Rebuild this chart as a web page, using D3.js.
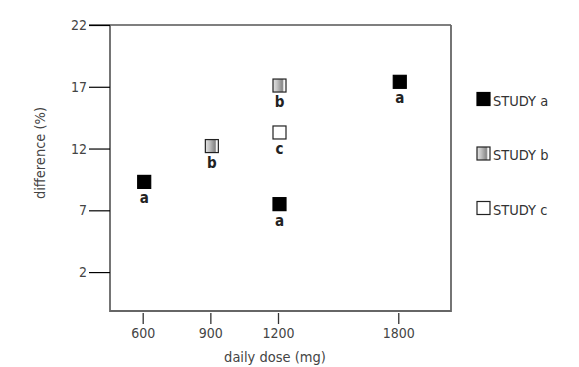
<!DOCTYPE html>
<html><head><meta charset="utf-8">
<script src="https://cdn.jsdelivr.net/npm/d3@7"></script>
<style>
body{margin:0;background:#fff;}
svg{display:block;}
text{font-family:"Liberation Sans Narrow","Arial Narrow","DejaVu Sans Condensed",sans-serif;}
</style></head>
<body><svg id="c" width="579" height="367"></svg>
<script>
// data
const studies = ["STUDY a", "STUDY b", "STUDY c"];
const studyLetters = ["a", "b", "c"];
const doses = [600, 900, 1200, 1200, 1200, 1800];
const differences = [9.3, 12.2, 17.1, 13.3, 7.5, 17.4];
const pointStudy = ["a", "b", "b", "c", "a", "a"];
const xTicks = [600, 900, 1200, 1800];
const yTicks = [2, 7, 12, 17, 22];

const FONT = '"Liberation Sans Narrow","Arial Narrow","DejaVu Sans Condensed",sans-serif';
const svg = d3.select("#c");
const L = 110, R = 451, T = 25, B = 311;
const x = d3.scaleLinear().domain([455, 1200, 2063]).range([L, L + 168, R]);
const y = d3.scaleLinear().domain([-1.15, 22]).range([B, T]);

// gradient for study b
const defs = svg.append("defs");
const g = defs.append("linearGradient").attr("id", "gb").attr("x1", "0").attr("x2", "1").attr("y1", "0").attr("y2", "0");
[[0, "#e4e4e4"], [0.3, "#c4c4c4"], [0.7, "#8a8a8a"], [0.78, "#9a9a9a"], [0.82, "#f4f4f4"], [1, "#ffffff"]]
  .forEach(([o, c]) => g.append("stop").attr("offset", o).attr("stop-color", c));
const fillFor = s => s === "a" ? "#000" : s === "b" ? "url(#gb)" : "#fff";
const strokeFor = s => s === "a" ? "#000" : "#222";

// top border (black) extends across tick
svg.append("line").attr("x1", L - 21).attr("x2", R).attr("y1", y(22)).attr("y2", y(22))
  .attr("stroke", "#000").attr("stroke-width", 1.2);
// right, bottom, left border (gray)
svg.append("path").attr("d", `M${R},${T}V${B}H${L}V${T}`).attr("fill", "none")
  .attr("stroke", "#666").attr("stroke-width", 1.8);

// y axis
const ya = svg.append("g").attr("transform", `translate(${L},0)`)
  .call(d3.axisLeft(y).tickValues(yTicks).tickSize(21).tickPadding(2).tickFormat(d3.format("d")));
ya.select(".domain").remove();
ya.selectAll(".tick line").attr("stroke", "#000").attr("stroke-width", 1.2);
ya.selectAll(".tick text").attr("fill", "#444").style("font-size", "14px").style("font-family", FONT);

// x axis
const xa = svg.append("g").attr("transform", `translate(0,${B + 2})`)
  .call(d3.axisBottom(x).tickValues(xTicks).tickSize(11).tickPadding(4).tickFormat(d3.format("d")));
xa.select(".domain").remove();
xa.selectAll(".tick line").attr("stroke", "#333").attr("stroke-width", 1.3);
xa.selectAll(".tick text").attr("fill", "#444").style("font-size", "14px").style("font-family", FONT);

// axis titles
svg.append("text").attr("x", 275).attr("y", 362).attr("text-anchor", "middle")
  .attr("fill", "#444").style("font-size", "14.5px").text("daily dose (mg)");
svg.append("text").attr("transform", "translate(45,153) rotate(-90)").attr("text-anchor", "middle")
  .attr("fill", "#444").style("font-size", "14.5px").text("difference (%)");

// points
const S = 13;
const pts = doses.map((d, i) => ({d, v: differences[i], s: pointStudy[i]}));
svg.selectAll("rect.pt").data(pts).join("rect").attr("class", "pt")
  .attr("x", p => x(p.d) + 1.5 - S / 2).attr("y", p => y(p.v) - S / 2)
  .attr("width", S).attr("height", S)
  .attr("fill", p => fillFor(p.s)).attr("stroke", p => strokeFor(p.s)).attr("stroke-width", 1.2);
svg.selectAll("text.lbl").data(pts).join("text").attr("class", "lbl")
  .attr("x", p => x(p.d) + 1.5).attr("y", p => y(p.v) + 21.5).attr("text-anchor", "middle")
  .attr("fill", "#222").style("font-weight", "bold").style("font-size", "15px").text(p => p.s);

// legend
const ly = d3.scalePoint().domain(studies).range([99, 208]);
const lg = svg.selectAll("g.leg").data(studies).join("g").attr("class", "leg")
  .attr("transform", s => `translate(477,${ly(s)})`);
lg.append("rect").attr("x", 0).attr("y", -6.5).attr("width", 13).attr("height", 13)
  .attr("fill", (s, i) => fillFor(studyLetters[i])).attr("stroke", (s, i) => strokeFor(studyLetters[i]))
  .attr("stroke-width", 1.2);
lg.append("text").attr("x", 16).attr("y", 6.5).attr("fill", "#333").style("font-size", "14.5px").text(s => s);
</script></body></html>
